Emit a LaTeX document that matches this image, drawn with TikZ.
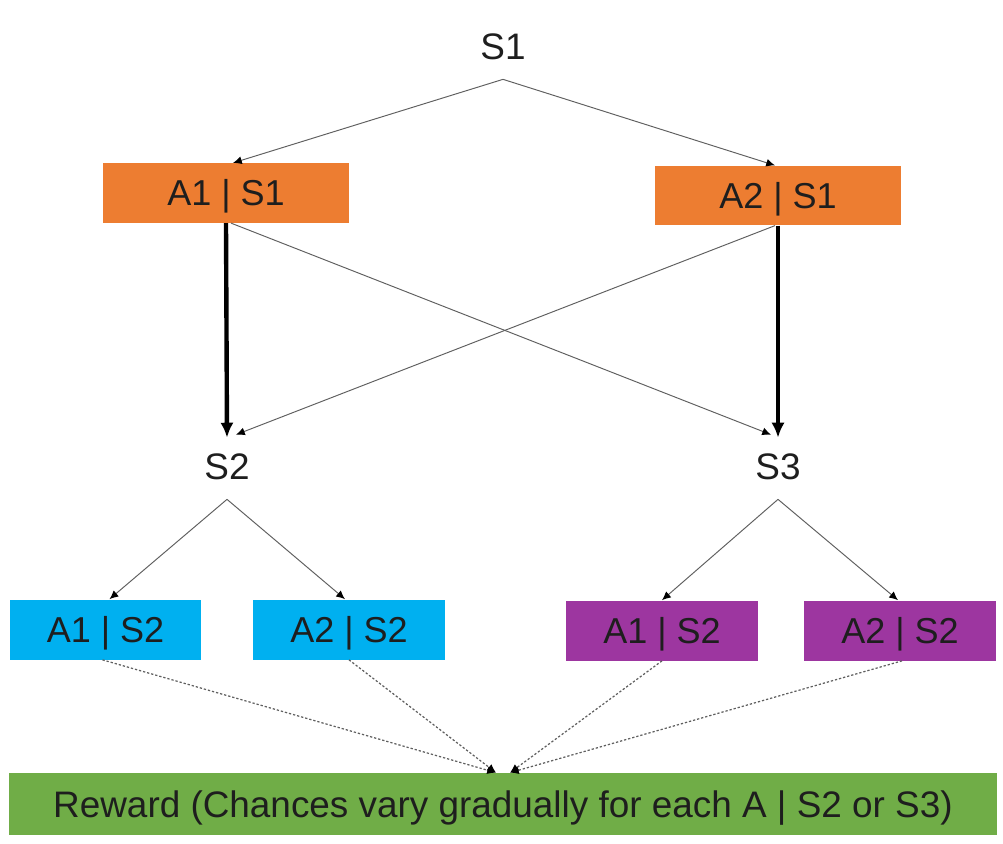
\documentclass[tikz,border=0pt]{standalone}
\usepackage{fontspec}
\setmainfont{Liberation Sans}
\usetikzlibrary{arrows.meta,calc}
\definecolor{orangebox}{RGB}{237,125,49}
\definecolor{bluebox}{RGB}{0,176,240}
\definecolor{purplebox}{RGB}{157,54,160}
\definecolor{greenbox}{RGB}{112,173,71}
\definecolor{txt}{RGB}{30,30,30}
\definecolor{thin}{RGB}{95,95,95}
\begin{document}
\begin{tikzpicture}[x=0.02cm,y=-0.02cm,
  statelbl/.style={inner sep=0pt,minimum height=1.28cm,text=txt,font=\fontsize{21pt}{24pt}\selectfont},
  actbox/.style={inner sep=0pt,minimum height=1.19cm,text=txt,text height=14.7pt,text depth=0pt,font=\fontsize{20.5pt}{24pt}\selectfont},
  thinarr/.style={draw=thin,line width=0.55pt,-{Latex[length=5pt,width=4.5pt,color=black]}},
  thickarr/.style={draw=black,line width=2.5pt,-{Latex[length=8.5pt,width=7.5pt]}},
  dotarr/.style={draw=thin,line width=0.7pt,dash pattern=on 1.3pt off 1.1pt,-{Latex[length=5pt,width=4.5pt,color=black]}}]
\useasboundingbox (0,0) rectangle (1003,843);
% state labels
\node[statelbl] (s1) at (503,47) {S1};
\node[statelbl] (s2) at (227,467) {S2};
\node[statelbl] (s3) at (778,467) {S3};
% action boxes
\node[actbox,fill=orangebox,minimum width=4.92cm] (a11) at (226,193) {A1 | S1};
\node[actbox,fill=orangebox,minimum width=4.92cm] (a21) at (778,195.5) {A2 | S1};
\node[actbox,fill=bluebox,minimum width=3.82cm,minimum height=1.2cm] (b1) at (105.5,629.5) {A1 | S2};
\node[actbox,fill=bluebox,minimum width=3.84cm,minimum height=1.2cm] (b2) at (349,629.5) {A2 | S2};
\node[actbox,fill=purplebox,minimum width=3.84cm,minimum height=1.2cm] (p1) at (662,630.5) {A1 | S2};
\node[actbox,fill=purplebox,minimum width=3.84cm,minimum height=1.2cm] (p2) at (900,630.5) {A2 | S2};
\node[actbox,fill=greenbox,minimum width=19.76cm,minimum height=1.24cm,text height=15pt,font=\fontsize{21pt}{24pt}\selectfont] (rw) at (503,804) {Reward (Chances vary gradually for each A | S2 or S3)};
% connectors
\draw[thinarr] (s1.south) -- ($(a11.north)+(7,0)$);
\draw[thinarr] (s1.south) -- ($(a21.north)+(-3,0)$);
\draw[thickarr] (a11.south) -- ($(s2.north)+(0,3)$);
\draw[thickarr] (a21.south) -- ($(s3.north)+(0,3)$);
\draw[thinarr] ($(a11.south)+(5,0)$) -- ($(s3.north)+(-7,0)$);
\draw[thinarr] ($(a21.south)+(-3,0)$) -- ($(s2.north)+(9,0)$);
\draw[thinarr] (s2.south) -- ($(b1.north)+(4,0)$);
\draw[thinarr] (s2.south) -- ($(b2.north)+(-4,0)$);
\draw[thinarr] (s3.south) -- (p1.north);
\draw[thinarr] (s3.south) -- ($(p2.north)+(-2,0)$);
\draw[dotarr] ($(b1.south)+(-3,0)$) -- ($(rw.north)+(-7,0)$);
\draw[dotarr] (b2.south) -- ($(rw.north)+(-7,0)$);
\draw[dotarr] (p1.south) -- ($(rw.north)+(7,0)$);
\draw[dotarr] ($(p2.south)+(2,0)$) -- ($(rw.north)+(7,0)$);
\end{tikzpicture}
\end{document}
